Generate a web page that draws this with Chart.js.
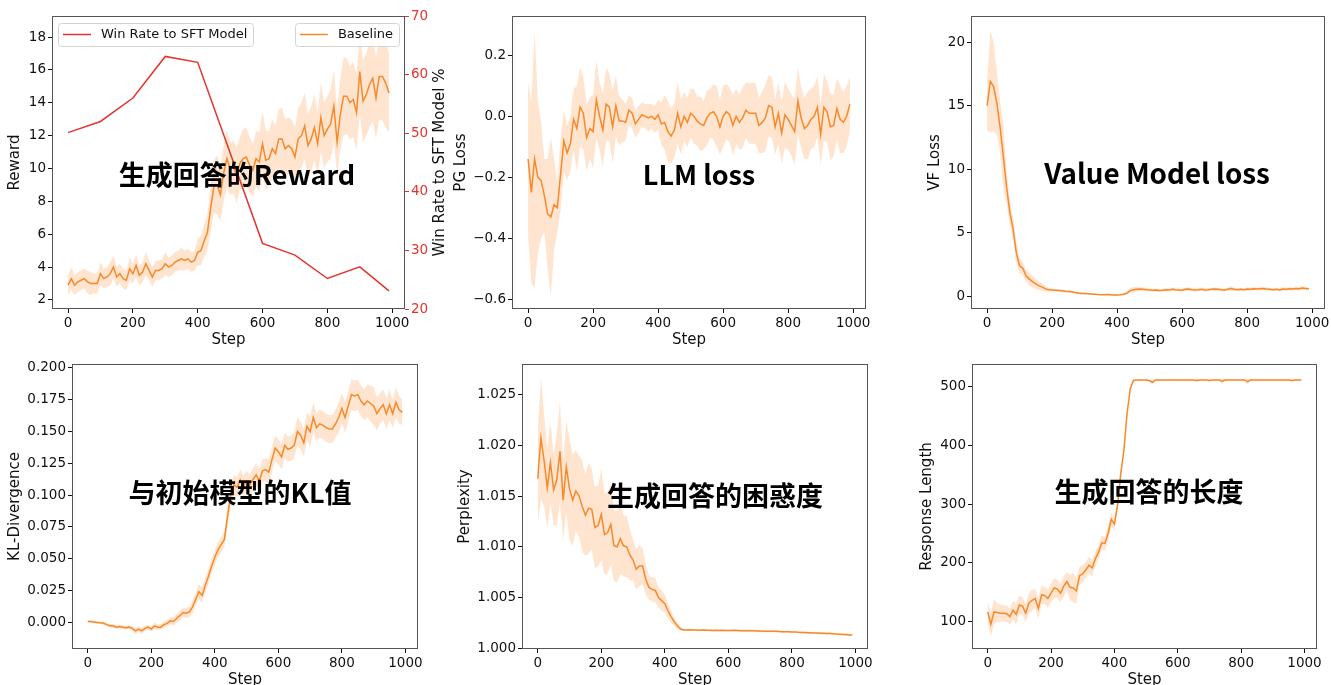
<!DOCTYPE html>
<html><head><meta charset="utf-8">
<script src="https://cdn.jsdelivr.net/npm/chart.js@4.4.1/dist/chart.umd.min.js"></script>
<style>
html,body{margin:0;padding:0;background:#fff;overflow:hidden;width:1331px;height:685px;}
canvas{position:absolute;}
.ov{position:absolute;transform:translate(-50%,-50%);font-family:"Noto Sans CJK SC";font-weight:700;font-size:27px;color:#000;white-space:nowrap;line-height:1;z-index:5;}
</style></head><body>
<canvas id="c1" width="460" height="350" style="left:0px;top:0px"></canvas>
<canvas id="c2" width="421" height="350" style="left:450px;top:0px"></canvas>
<canvas id="c3" width="411" height="350" style="left:920px;top:0px"></canvas>
<canvas id="c4" width="424" height="340" style="left:0px;top:350px"></canvas>
<canvas id="c5" width="422" height="340" style="left:450px;top:350px"></canvas>
<canvas id="c6" width="419" height="340" style="left:912px;top:350px"></canvas>
<div class="ov" style="left:237px;top:173px">生成回答的Reward</div>
<div class="ov" style="left:699px;top:173px">LLM loss</div>
<div class="ov" style="left:1157px;top:173px;font-size:27.8px">Value Model loss</div>
<div class="ov" style="left:240px;top:491px">与初始模型的KL值</div>
<div class="ov" style="left:715px;top:494px">生成回答的困惑度</div>
<div class="ov" style="left:1149px;top:490px">生成回答的长度</div>
<script>
// ---------------- DATA ----------------
const steps = [0,10,20,30,40,50,60,70,80,90,100,110,120,130,140,150,160,170,180,190,200,210,220,230,240,250,260,270,280,290,300,310,320,330,340,350,360,370,380,390,400,410,420,430,440,450,460,470,480,490,500,510,520,530,540,550,560,570,580,590,600,610,620,630,640,650,660,670,680,690,700,710,720,730,740,750,760,770,780,790,800,810,820,830,840,850,860,870,880,890,900,910,920,930,940,950,960,970,980,990];

const rewardMean = [2.9,3.3,2.9,3.1,3.2,3.3,3.1,3.0,3.0,3.0, 3.6,3.3,3.4,3.6,4.0,3.4,3.6,3.3,3.2,3.9, 3.6,4.1,3.5,3.7,4.2,3.8,3.4,3.8,3.8,3.9, 4.2,4.0,4.1,4.3,4.4,4.5,4.4,4.5,4.3,4.4, 4.9,5.0,5.6,6.1,7.6,8.9,9.0,8.4,9.7,10.6, 10.0,10.1,9.6,10.3,10.6,10.7,10.2,9.9,10.6,10.4, 11.5,10.5,10.6,11.2,10.9,11.8,11.8,11.2,11.4,11.2, 10.7,11.8,12.0,12.6,11.4,11.8,12.5,11.5,13.1,12.0, 12.4,12.7,13.8,11.6,13.3,14.4,14.4,14.0,14.2,13.4, 15.9,14.1,14.5,15.1,15.5,14.3,15.6,15.6,15.2,14.6];
const rewardSpread = [0.6,0.7,0.6,0.6,0.6,0.6,0.7,0.7,0.6,0.6, 0.7,0.6,0.6,0.7,0.7,0.6,0.6,0.6,0.6,0.7, 0.6,0.7,0.6,0.6,0.7,0.6,0.6,0.6,0.6,0.6, 0.7,0.6,0.6,0.6,0.6,0.7,0.6,0.6,0.6,0.6, 0.8,0.9,1.0,1.1,1.4,1.6,1.8,1.6,1.7,1.8, 1.6,1.6,1.7,1.6,1.8,1.8,1.7,1.6,1.7,1.8, 2.0,1.8,1.7,1.8,1.7,1.8,1.9,1.8,1.7,1.8, 1.8,1.9,2.0,2.0,1.9,2.0,2.0,1.9,2.1,2.0, 2.0,2.1,2.2,2.0,2.2,2.4,2.3,2.2,2.3,2.3, 2.6,2.5,2.5,2.6,2.6,2.5,2.6,2.7,2.7,2.4];

const winSteps = [0,100,200,300,400,600,700,800,900,990];
const winRate = [50.1,52.0,56.0,63.1,62.1,31.2,29.2,25.2,27.2,23.1];

const pgMean = [-0.14,-0.25,-0.14,-0.20,-0.21,-0.26,-0.32,-0.33,-0.29,-0.30, -0.19,-0.08,-0.12,-0.09,-0.01,-0.04,0.03,0.01,-0.07,-0.04, -0.05,0.055,0.0,-0.045,0.04,0.03,-0.035,0.035,-0.015,-0.015, -0.02,0.02,0.01,-0.025,-0.01,0.005,0.0,-0.005,0.0,-0.01, 0.005,-0.025,-0.02,-0.05,-0.065,-0.045,0.01,-0.035,0.0,-0.02, 0.01,0.0,-0.015,-0.025,-0.03,-0.005,0.01,0.015,0.0,-0.035, 0.0,0.015,0.005,-0.03,0.0,-0.02,-0.005,0.02,0.01,0.01, 0.01,-0.03,-0.02,-0.005,0.035,0.03,-0.035,0.01,-0.055,0.005, -0.01,-0.03,-0.05,0.05,-0.005,-0.04,-0.03,-0.01,0.0,0.03, -0.06,0.03,0.015,-0.035,-0.03,0.025,-0.01,-0.02,0.0,0.04];
const pgSpread = [0.25,0.30,0.42,0.25,0.19,0.12,0.18,0.26,0.15,0.08, 0.12,0.10,0.09,0.09,0.10,0.14,0.13,0.12,0.11,0.10, 0.12,0.13,0.11,0.12,0.12,0.11,0.12,0.10,0.08,0.07, 0.06,0.05,0.05,0.045,0.045,0.04,0.04,0.045,0.04,0.045, 0.05,0.07,0.09,0.10,0.09,0.09,0.10,0.09,0.08,0.08, 0.08,0.09,0.08,0.09,0.08,0.09,0.08,0.09,0.10,0.09, 0.10,0.09,0.09,0.10,0.09,0.09,0.10,0.09,0.10,0.10, 0.10,0.09,0.10,0.11,0.10,0.10,0.09,0.10,0.10,0.11, 0.10,0.10,0.11,0.11,0.10,0.10,0.11,0.10,0.10,0.10, 0.10,0.11,0.10,0.11,0.10,0.10,0.11,0.10,0.10,0.09];

const vfMean = [15.0,16.9,16.5,15.2,13.3,11.0,8.6,6.6,5.3,3.4, 2.4,2.2,1.6,1.35,1.15,0.97,0.82,0.72,0.58,0.52, 0.50,0.48,0.46,0.44,0.40,0.38,0.36,0.30,0.25,0.22, 0.22,0.20,0.18,0.16,0.14,0.13,0.13,0.14,0.12,0.10, 0.10,0.12,0.16,0.25,0.45,0.52,0.55,0.58,0.55,0.52, 0.50,0.48,0.50,0.45,0.48,0.52,0.50,0.55,0.52,0.50, 0.48,0.55,0.58,0.52,0.50,0.52,0.55,0.50,0.52,0.55, 0.58,0.55,0.52,0.50,0.55,0.62,0.55,0.52,0.55,0.52, 0.58,0.55,0.60,0.58,0.60,0.62,0.58,0.55,0.52,0.55, 0.50,0.58,0.55,0.60,0.58,0.62,0.60,0.65,0.62,0.60];
const vfSpread = [2.0,4.0,3.5,2.5,2.0,2.5,1.3,1.0,0.9,0.8, 0.6,0.5,0.5,0.5,0.45,0.4,0.35,0.3,0.2,0.15, 0.12,0.12,0.1,0.1,0.1,0.1,0.08,0.08,0.08,0.07, 0.06,0.06,0.06,0.05,0.05,0.05,0.05,0.05,0.05,0.05, 0.05,0.06,0.08,0.12,0.2,0.22,0.2,0.18,0.15,0.15, 0.12,0.12,0.12,0.12,0.12,0.12,0.12,0.12,0.12,0.12, 0.12,0.14,0.14,0.12,0.12,0.12,0.14,0.12,0.12,0.12, 0.14,0.12,0.12,0.12,0.12,0.2,0.12,0.12,0.12,0.12, 0.14,0.12,0.14,0.12,0.14,0.14,0.12,0.12,0.12,0.12, 0.12,0.14,0.12,0.14,0.12,0.14,0.14,0.16,0.14,0.14];

const klMean = [0.0005,0.0005,0.0,-0.0003,-0.0005,-0.001,-0.002,-0.003,-0.003,-0.004, -0.0035,-0.004,-0.0045,-0.004,-0.005,-0.007,-0.0055,-0.007,-0.005,-0.004, -0.0055,-0.003,-0.004,-0.004,-0.002,-0.001,0.001,0.0005,0.003,0.005, 0.0075,0.007,0.008,0.012,0.018,0.024,0.021,0.029,0.036,0.044, 0.051,0.057,0.061,0.065,0.083,0.100,0.108,0.106,0.112,0.107, 0.111,0.108,0.112,0.116,0.111,0.119,0.120,0.118,0.128,0.137, 0.134,0.130,0.139,0.136,0.137,0.139,0.150,0.147,0.141,0.154, 0.150,0.161,0.153,0.156,0.155,0.153,0.152,0.152,0.156,0.161, 0.168,0.161,0.170,0.179,0.178,0.179,0.174,0.171,0.174,0.172, 0.170,0.164,0.168,0.171,0.164,0.171,0.164,0.173,0.167,0.165];
const klSpread = [0.001,0.001,0.001,0.001,0.001,0.0012,0.0012,0.0015,0.0015,0.0015, 0.0015,0.0015,0.0015,0.0015,0.0018,0.0025,0.002,0.0025,0.002,0.002, 0.002,0.0025,0.002,0.002,0.0025,0.0025,0.003,0.003,0.0035,0.004, 0.004,0.004,0.004,0.005,0.005,0.006,0.006,0.006,0.006,0.006, 0.006,0.006,0.006,0.006,0.008,0.008,0.008,0.008,0.008,0.008, 0.008,0.008,0.009,0.009,0.009,0.009,0.009,0.010,0.010,0.010, 0.010,0.010,0.010,0.010,0.010,0.010,0.011,0.011,0.011,0.011, 0.012,0.012,0.011,0.011,0.011,0.011,0.011,0.011,0.011,0.012, 0.012,0.012,0.012,0.012,0.012,0.012,0.012,0.012,0.013,0.014, 0.015,0.013,0.012,0.012,0.012,0.012,0.011,0.012,0.011,0.010];

const pplMean = [1.0167,1.0207,1.0185,1.0158,1.0183,1.0156,1.0166,1.0194,1.0146,1.0179, 1.0157,1.0146,1.0155,1.0150,1.0140,1.0131,1.0138,1.0137,1.0119,1.0121, 1.0132,1.0112,1.0114,1.0122,1.0101,1.0100,1.0108,1.0101,1.0100,1.0092, 1.0087,1.0078,1.0081,1.0081,1.0068,1.0060,1.0058,1.0057,1.0050,1.0047, 1.0044,1.0037,1.0031,1.0026,1.0022,1.0019,1.0018,1.0018,1.00182,1.00181, 1.0018,1.00178,1.00181,1.00177,1.00178,1.00176,1.00177,1.00175,1.00177,1.00176, 1.00175,1.00176,1.00178,1.00176,1.00174,1.00173,1.00172,1.00174,1.00172,1.0017, 1.0017,1.00168,1.00167,1.00169,1.00167,1.00168,1.00165,1.00163,1.00164,1.00162, 1.0016,1.00161,1.00158,1.00156,1.00155,1.00154,1.00152,1.0015,1.00151,1.00149, 1.00147,1.00145,1.00146,1.00143,1.0014,1.00138,1.00136,1.00135,1.00132,1.0013];
const pplSpread = [0.0045,0.006,0.0045,0.004,0.004,0.0035,0.0045,0.005,0.004,0.0045, 0.005,0.0045,0.004,0.004,0.0045,0.004,0.0045,0.004,0.004,0.004, 0.0045,0.004,0.004,0.004,0.0035,0.0035,0.0035,0.003,0.003,0.0025, 0.002,0.002,0.002,0.0018,0.0015,0.0012,0.0012,0.0012,0.001,0.001, 0.0009,0.0008,0.0006,0.0004,0.0003,0.0002,0.0001,0.0001,0.0001,0.0001, 0.0001,0.0001,0.0001,0.0001,0.0001,0.0001,0.0001,0.0001,0.0001,0.0001, 0.0001,0.0001,0.0001,0.0001,0.0001,0.0001,0.0001,0.0001,0.0001,0.0001, 0.0001,0.0001,0.0001,0.0001,0.0001,0.0001,0.0001,0.0001,0.0001,0.0001, 0.0001,0.0001,0.0001,0.0001,0.0001,0.0001,0.0001,0.0001,0.0001,0.0001, 0.0001,0.0001,0.0001,0.0001,0.0001,0.0001,0.0001,0.0001,0.0001,0.0001];

const rlMean = [116,95,116,115,114,114,113,108,119,112, 128,126,114,131,136,139,122,145,144,139, 148,157,155,148,160,168,158,157,152,178, 181,188,196,191,207,218,234,233,250,274, 266,298,352,392,455,497,511,512,512,512, 512,511,508,512,512,512,512,512,512,512, 512,512,512,512,512,512,511,512,512,512, 511,512,512,512,510,512,512,512,512,512, 512,512,509,512,512,512,512,512,512,512, 512,512,512,512,512,512,511,512,512,512];
const rlSpread = [18,20,22,16,15,14,14,14,16,18, 16,15,16,18,18,16,18,16,15,16, 16,17,16,16,17,16,22,25,22,16, 15,14,14,14,13,12,12,12,12,12, 10,10,8,6,5,3,2,1,1,1, 1,1,4,1,1,1,1,1,1,1, 1,1,1,1,1,1,3,1,1,1, 2,1,1,1,5,1,1,1,1,1, 1,1,5,1,1,1,1,1,1,1, 1,1,1,1,1,1,2,1,1,1];

const X_TICKS = [0,200,400,600,800,1000];
const REWARD_TICKS = [2,4,6,8,10,12,14,16,18];
const WIN_TICKS = [20,30,40,50,60,70];
const PG_TICKS = [-0.6,-0.4,-0.2,0,0.2];
const VF_TICKS = [0,5,10,15,20];
const KL_TICKS = [0,0.025,0.05,0.075,0.1,0.125,0.15,0.175,0.2];
const PPL_TICKS = [1.000,1.005,1.010,1.015,1.020,1.025];
const RL_TICKS = [100,200,300,400,500];

const WIN_LABEL = 'Win Rate to SFT Model';
const BASE_LABEL = 'Baseline';
const WIN_AXIS_TITLE = 'Win Rate to SFT Model %';

// ---------------- STYLE ----------------
const ORANGE = '#f7892a';
const BAND = 'rgba(255,127,14,0.2)';
const RED = '#e3342f';
const INK = '#111';
const TICK_FONT = {family:'DejaVu Sans', size:13.5};
const TITLE_FONT = {family:'DejaVu Sans', size:15};
const X_MIN = -49.5, X_MAX = 1039.5;

Chart.defaults.font.family = 'DejaVu Sans';

const pts = (xs, ys) => xs.map((x,i)=>({x:x, y:ys[i]}));
const fmtMinus = d => v => (v < 0 ? '\u2212' + Math.abs(v).toFixed(d) : v.toFixed(d));

const framePlugin = {
  id:'frame',
  afterDraw(chart){
    const {ctx, chartArea:a} = chart;
    ctx.save();
    ctx.strokeStyle = '#555';
    ctx.lineWidth = 1;
    ctx.strokeRect(Math.round(a.left)+0.5, Math.round(a.top)+0.5, Math.round(a.right-a.left)-1, Math.round(a.bottom-a.top)-1);
    ctx.restore();
  }
};

const legendPlugin = {
  id:'legendBoxes',
  afterDraw(chart){
    const {ctx, chartArea:a} = chart;
    ctx.save();
    ctx.font = '13px "DejaVu Sans"';
    const items = [{text:WIN_LABEL, color:RED, side:'left'},{text:BASE_LABEL, color:ORANGE, side:'right'}];
    items.forEach(it=>{
      const tw = ctx.measureText(it.text).width;
      const w = 5 + 28 + 10 + tw + 6, h = 23;
      const x = it.side==='left' ? a.left+6 : a.right-6-w;
      const y = a.top+7;
      ctx.beginPath();
      ctx.roundRect(Math.round(x)+0.5, Math.round(y)+0.5, Math.round(w), h, 3);
      ctx.fillStyle = 'rgba(255,255,255,0.85)'; ctx.fill();
      ctx.strokeStyle = '#d4d4d4'; ctx.lineWidth = 1; ctx.stroke();
      ctx.beginPath(); ctx.moveTo(x+5, y+h/2); ctx.lineTo(x+33, y+h/2);
      ctx.strokeStyle = it.color; ctx.lineWidth = 1.5; ctx.stroke();
      ctx.fillStyle = INK; ctx.textBaseline = 'middle'; ctx.textAlign = 'left';
      ctx.fillText(it.text, x+43, y+h/2+0.5);
    });
    // right axis title, reading bottom-to-top
    ctx.translate(440, (a.top+a.bottom)/2);
    ctx.rotate(-Math.PI/2);
    ctx.font = '15px "DejaVu Sans"';
    ctx.textAlign = 'center'; ctx.textBaseline = 'middle'; ctx.fillStyle = INK;
    ctx.fillText(WIN_AXIS_TITLE, 0, 0);
    ctx.restore();
  }
};

function bandSets(mean, spread){
  const up = mean.map((m,i)=>m+spread[i]);
  const lo = mean.map((m,i)=>m-spread[i]);
  return [
    {label:'upper', data:pts(steps, up), borderWidth:0, borderColor:'rgba(0,0,0,0)', pointRadius:0, fill:false, order:5},
    {label:'lower', data:pts(steps, lo), borderWidth:0, borderColor:'rgba(0,0,0,0)', pointRadius:0, fill:'-1', backgroundColor:BAND, order:4},
    {label:BASE_LABEL, data:pts(steps, mean), borderColor:ORANGE, borderWidth:1.5, pointRadius:0, fill:false, order:1}
  ];
}

function axisCommon(){
  return {
    grid:{drawOnChartArea:false, drawTicks:true, tickLength:4, tickColor:INK, tickWidth:1},
    border:{display:false}
  };
}

function make(id, o){
  const scales = {
    x:Object.assign(axisCommon(), {
      type:'linear', min:X_MIN, max:X_MAX,
      afterBuildTicks:s=>{s.ticks = X_TICKS.map(v=>({value:v}));},
      afterFit:s=>{s.height = o.xh; s.paddingLeft = 0; s.paddingRight = 0;},
      ticks:{font:TICK_FONT, color:INK, padding:2, maxRotation:0, minRotation:0, autoSkip:false, callback:v=>String(v)},
      title:{display:true, text:'Step', font:TITLE_FONT, color:INK, padding:{top:0, bottom:1}}
    }),
    y:Object.assign(axisCommon(), {
      type:'linear', position:'left', min:o.ymin, max:o.ymax,
      afterBuildTicks:s=>{s.ticks = o.yticks.map(v=>({value:v}));},
      afterFit:s=>{s.width = o.yw; s.paddingTop = 0; s.paddingBottom = 0;},
      ticks:{font:TICK_FONT, color:INK, padding:2, autoSkip:false, callback:o.yfmt},
      title:{display:true, text:o.ytitle, font:TITLE_FONT, color:INK, padding:{top:o.ytp, bottom:0}}
    })
  };
  if (o.extraScales) Object.assign(scales, o.extraScales);
  const datasets = bandSets(o.mean, o.spread).concat(o.extraSets || []);
  return new Chart(document.getElementById(id), {
    type:'line',
    data:{datasets},
    options:{
      responsive:false, animation:false, events:[],
      parsing:true, normalized:true,
      layout:{padding:{top:o.pt, right:o.pr || 0, left:0, bottom:0}},
      plugins:{legend:{display:false}, tooltip:{enabled:false}},
      scales
    },
    plugins:[framePlugin].concat(o.plugins || [])
  });
}

make('c1', {
  mean:rewardMean, spread:rewardSpread, ymin:1.45, ymax:19.28, yticks:REWARD_TICKS,
  yfmt:v=>String(v), ytitle:'Reward', yw:52, ytp:6.5, xh:41, pt:16, pr:0,
  extraSets:[{label:WIN_LABEL, data:pts(winSteps, winRate), yAxisID:'y2', borderColor:RED, borderWidth:1.5, pointRadius:0, fill:false, order:0}],
  extraScales:{
    y2:{type:'linear', position:'right', min:20, max:70,
      afterBuildTicks:s=>{s.ticks = WIN_TICKS.map(v=>({value:v}));},
      afterFit:s=>{s.width = 55; s.paddingTop = 0; s.paddingBottom = 0;},
      ticks:{font:TICK_FONT, color:RED, padding:2, autoSkip:false, callback:v=>String(v)},
      grid:{drawOnChartArea:false, drawTicks:true, tickLength:4, tickColor:RED, tickWidth:1},
      border:{display:false},
      title:{display:false}
    }
  },
  plugins:[legendPlugin]
});

make('c2', {mean:pgMean, spread:pgSpread, ymin:-0.632, ymax:0.329, yticks:PG_TICKS,
  yfmt:fmtMinus(1), ytitle:'PG Loss', yw:62, ytp:1.7, xh:41, pt:16, pr:5});

make('c3', {mean:vfMean, spread:vfSpread, ymin:-1.0, ymax:22.05, yticks:VF_TICKS,
  yfmt:v=>String(v), ytitle:'VF Loss', yw:51, ytp:6, xh:41, pt:16, pr:6});

make('c4', {mean:klMean, spread:klSpread, ymin:-0.0212, ymax:0.2031, yticks:KL_TICKS,
  yfmt:fmtMinus(3), ytitle:'KL-Divergence', yw:72, ytp:6, xh:41, pt:14, pr:6});

make('c5', {mean:pplMean, spread:pplSpread, ymin:0.99993, ymax:1.02801, yticks:PPL_TICKS,
  yfmt:fmtMinus(3), ytitle:'Perplexity', yw:72, ytp:6, xh:41, pt:14, pr:4});

make('c6', {mean:rlMean, spread:rlSpread, ymin:52.8, ymax:539.2, yticks:RL_TICKS,
  yfmt:v=>String(v), ytitle:'Response Length', yw:60, ytp:6.3, xh:41, pt:14, pr:14});
</script>
</body></html>
